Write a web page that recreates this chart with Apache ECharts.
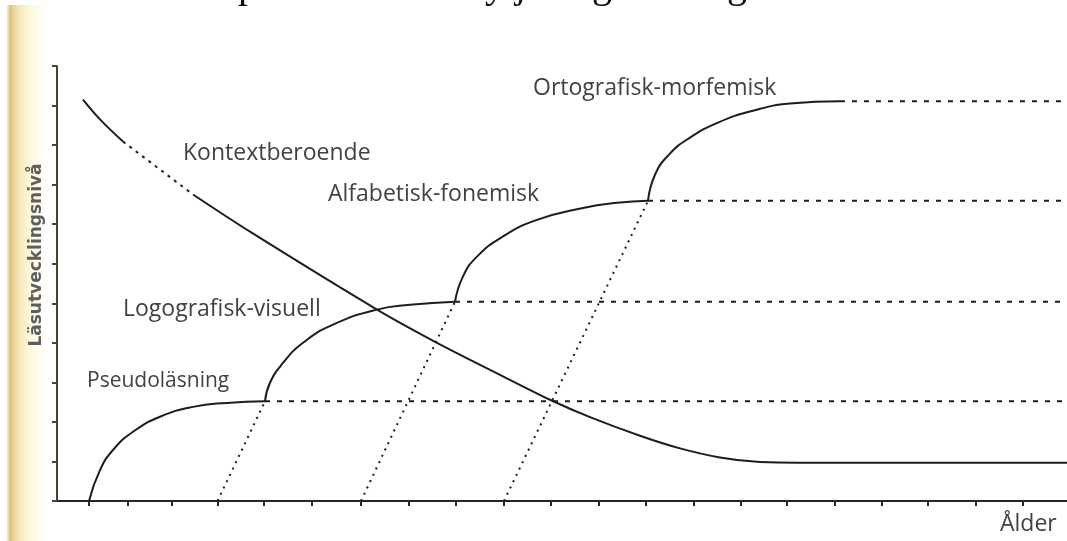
<!DOCTYPE html>
<html lang="sv">
<head>
    <meta charset="UTF-8">
    <title>Läsutveckling</title>
    <script src="https://cdn.jsdelivr.net/npm/echarts/dist/echarts.min.js"></script>
    <style>
        html, body { margin: 0; padding: 0; background: #fff; }
    </style>
</head>
<body>
<div id="main" style="width: 1067px;height: 541px;"></div>
<script>
    // x = ålder (godtycklig skala 0-101), y = läsutvecklingsnivå (0-11)
    var xTicks = [3.2, 7.1, 11.5, 16.1, 20.7, 25.5, 30.4, 35.2, 39.9, 44.7, 49.4,
                  54.2, 58.9, 63.7, 68.4, 73.0, 77.8, 82.5, 87.1, 91.9, 96.6];

    var pseudoX = [3.2, 4.3, 5.6, 7.6, 10.3, 13.6, 17.0, 20.8];
    var pseudoY = [0, 0.78, 1.29, 1.75, 2.13, 2.38, 2.48, 2.52];

    var logoX = [20.8, 21.3, 22.6, 24.6, 27.6, 32.0, 35.3, 39.8];
    var logoY = [2.52, 2.99, 3.49, 4.0, 4.46, 4.84, 4.96, 5.04];

    var alfaX = [39.8, 40.6, 42.0, 44.6, 48.0, 52.6, 56.0, 59.1];
    var alfaY = [5.04, 5.68, 6.18, 6.69, 7.11, 7.41, 7.54, 7.59];

    var ortoX = [59.1, 59.8, 61.2, 63.3, 66.1, 69.6, 73.3, 78.3];
    var ortoY = [7.59, 8.25, 8.76, 9.19, 9.57, 9.87, 10.05, 10.11];

    // Kontextberoende: heldragen - streckad - heldragen
    var kontextX1 = [2.6, 4.3, 6.6];
    var kontextY1 = [10.15, 9.65, 9.09];
    var kontextX2 = [6.6, 13.6];
    var kontextY2 = [9.09, 7.75];
    var kontextX3 = [13.6, 19.3, 32.0, 38.0, 44.3, 49.3, 53.3, 58.3, 62.3, 66.3, 70.0, 74.0, 101];
    var kontextY3 = [7.75, 6.81, 4.84, 4.0, 3.19, 2.56, 2.12, 1.65, 1.33, 1.10, 0.99, 0.97, 0.97];

    // platåer (streckade) och övergångar (prickade)
    var plateauStartX = [20.8, 39.8, 59.1, 78.3];
    var plateauY = [2.52, 5.04, 7.59, 10.11];
    var plateauEndX = 101;
    var diagBaseX = [16.05, 30.4, 44.7];

    var stageNames = ['Pseudoläsning', 'Logografisk-visuell', 'Alfabetisk-fonemisk', 'Ortografisk-morfemisk'];
    var curveName = 'Kontextberoende';
    var xName = 'Ålder';
    var yName = 'Läsutvecklingsnivå';

    var lineColor = '#1d1d1d';
    var textColor = '#424242';

    function zip(xs, ys) {
        var out = [];
        for (var i = 0; i < xs.length; i++) {
            out.push([xs[i], ys[i]]);
        }
        return out;
    }

    function line(data, type, smooth) {
        return {
            type: 'line',
            data: data,
            symbol: 'none',
            smooth: smooth,
            silent: true,
            lineStyle: { color: lineColor, width: 2, type: type }
        };
    }

    var seriesData = [];
    seriesData.push(line(zip(pseudoX, pseudoY), 'solid', 0.5));
    seriesData.push(line(zip(logoX, logoY), 'solid', 0.5));
    seriesData.push(line(zip(alfaX, alfaY), 'solid', 0.5));
    seriesData.push(line(zip(ortoX, ortoY), 'solid', 0.5));
    seriesData.push(line(zip(kontextX1, kontextY1), 'solid', 0.4));
    seriesData.push(line(zip(kontextX2, kontextY2), [3, 5], false));
    seriesData.push(line(zip(kontextX3, kontextY3), 'solid', 0.3));
    for (var i = 0; i < plateauY.length; i++) {
        seriesData.push(line([[plateauStartX[i], plateauY[i]], [plateauEndX, plateauY[i]]], [5, 7], false));
    }
    for (var j = 0; j < diagBaseX.length; j++) {
        seriesData.push(line([[diagBaseX[j], 0], [plateauStartX[j], plateauY[j]]], [2, 5], false));
    }

    function label(text, x, y, size) {
        return {
            type: 'text', x: x, y: y, silent: true,
            style: {
                text: text, fill: textColor,
                font: size + 'px "Open Sans", Lato, sans-serif',
                textAlign: 'left', textVerticalAlign: 'middle'
            }
        };
    }

    // rester av text från sidan ovanför (bara nedstaplarna syns)
    function topGlyph(ch, x) {
        return {
            type: 'text', x: x, y: -34, silent: true,
            style: {
                text: ch, fill: '#111',
                font: '40px "Liberation Serif", serif',
                align: 'left', verticalAlign: 'top'
            }
        };
    }

    var graphics = [
        {
            type: 'rect', silent: true,
            shape: { x: 6, y: 5, width: 40, height: 536 },
            style: {
                fill: new echarts.graphic.LinearGradient(0, 0, 1, 0, [
                    { offset: 0, color: '#ffffff' },
                    { offset: 0.1, color: '#d9c07e' },
                    { offset: 0.2, color: '#e9d59c' },
                    { offset: 0.35, color: '#f7ebbb' },
                    { offset: 0.6, color: '#fdf7dd' },
                    { offset: 1, color: '#ffffff' }
                ])
            }
        },
        label(curveName, 183, 153, 23),
        label(stageNames[0], 87, 381, 21),
        label(stageNames[1], 123, 309, 23),
        label(stageNames[2], 328, 194, 23),
        label(stageNames[3], 533, 88, 23),
        label(xName, 1000, 524, 23),
        {
            type: 'text', x: 37, y: 255, rotation: Math.PI / 2, silent: true,
            style: {
                text: yName, fill: '#5e5e5e',
                font: 'bold 17px "DejaVu Sans", sans-serif',
                textAlign: 'center', textVerticalAlign: 'middle'
            }
        },
        topGlyph('p', 238),
        topGlyph('y', 485),
        topGlyph('j', 515),
        topGlyph('g', 592),
        topGlyph('g', 727)
    ];

    var myChart = echarts.init(document.getElementById('main'));

    var option = {
        animation: false,
        backgroundColor: '#fff',
        grid: { left: 57, right: 0, top: 66, bottom: 40 },
        xAxis: {
            type: 'value',
            min: 0,
            max: 101,
            axisLine: { lineStyle: { color: '#262626', width: 2 } },
            axisTick: { show: true, customValues: xTicks, length: 5, lineStyle: { color: '#262626', width: 2 } },
            axisLabel: { show: false },
            splitLine: { show: false }
        },
        yAxis: {
            type: 'value',
            min: 0,
            max: 11,
            interval: 1,
            axisLine: { show: true, lineStyle: { color: '#4a4530', width: 2 } },
            axisTick: { show: true, length: 5, lineStyle: { color: '#4a4530', width: 2 } },
            axisLabel: { show: false },
            splitLine: { show: false }
        },
        graphic: graphics,
        series: seriesData
    };

    myChart.setOption(option);
</script>
</body>
</html>
